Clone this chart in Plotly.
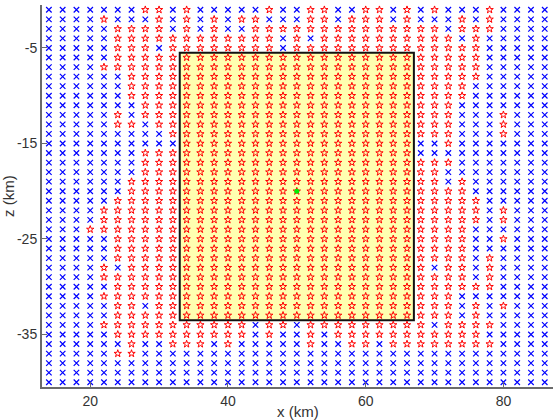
import plotly.graph_objects as go

# Grid columns (x, km) and rows (z, km)
x_cols = [14, 16, 18, 20, 22, 24, 26, 28, 30, 32, 34, 36, 38, 40, 42, 44, 46, 48, 50,
          52, 54, 56, 58, 60, 62, 64, 66, 68, 70, 72, 74, 76, 78, 80, 82, 84, 86]
z_rows = [-1, -2, -3, -4, -5, -6, -7, -8, -9, -10, -11, -12, -13, -14, -15, -16, -17,
          -18, -19, -20, -21, -22, -23, -24, -25, -26, -27, -28, -29, -30, -31, -32,
          -33, -34, -35, -36, -37, -38, -39, -40]

# Classification per row: '*' = red star, 'x' = blue cross (one char per column)
IN = "*" * 17
pattern = [
    "xxxxxxx**x*xxxxx*xx**xx**x*x*xxx*xxxx",
    "xxxx*xxx*x*x*x**xxx**x***x*xxx*x*xxxx",
    "xxxxx****x*x*xx**************x***xxxx",
    "xxxxx************x*x**********x*xxxxx",
    "xxxxx***x********x**************xxxxx",
    "xxxxx*****" + IN + "*****xxxxx",
    "xxxx******" + IN + "*****xxxxx",
    "xxxxxx****" + IN + "*****xxxxx",
    "xxxxxx****" + IN + "****xxxxxx",
    "xxxxxx****" + IN + "****xxxxxx",
    "xxxxxxx***" + IN + "***xxxxxxx",
    "xxxxx*x***" + IN + "***xxx*xxx",
    "xxxxx**x**" + IN + "***xxx*xxx",
    "xxxxxxxxx*" + IN + "***xxx*xxx",
    "xxxxxxxxxx" + IN + "xx*xxxxxxx",
    "xxxxxxx***" + IN + "xxxxxxxxxx",
    "xxxxxxx***" + IN + "***xxxxxxx",
    "xxxxxxx***" + IN + "**xxxxxxxx",
    "xxxxxx****" + IN + "**x*xxxxxx",
    "xxxxxx****" + IN + "****xxxxxx",
    "xxxxx*****" + IN + "*****xxxxx",
    "xxxx******" + IN + "*****x*xxx",
    "xxxx******" + IN + "*****x*xxx",
    "xxx*******" + IN + "****xxxxxx",
    "xxxxx*****" + IN + "****xx*xxx",
    "xxxxx*****" + IN + "****xxxxxx",
    "xxxxx*****" + IN + "****x*xxxx",
    "xxxx*x****" + IN + "*x**x*xxxx",
    "xxxx******" + IN + "****x*xxxx",
    "xxxxx*****" + IN + "******xxxx",
    "xxxx******" + IN + "***xxxxxxx",
    "xxxxx**x**" + IN + "***x*x*xxx",
    "xxxxx*****" + IN + "***x*xxxxx",
    "xxxx******" + "*****x**x*****" + "****x****xxxx",
    "xxxxx*****" + "*****x*xx*x***" + "********xxxxx",
    "xxxxxx*xx*" + "**x*xxxxx*xx**" + "x********xxxx",
    "xxxxx**xxx" + "x" * 27,
    "x" * 37,
    "x" * 37,
    "x" * 37,
]

# Source region (rectangle) and centre point
rect_x = [33, 67]
rect_z = [-33.5, -5.5]
src_x = [50]
src_z = [-20]

x_ticks = [20, 40, 60, 80]
z_ticks = [-5, -15, -25, -35]

star_x, star_z, cross_x, cross_z = [], [], [], []
for z, row in zip(z_rows, pattern):
    for x, c in zip(x_cols, row):
        if c == "*":
            star_x.append(x); star_z.append(z)
        else:
            cross_x.append(x); cross_z.append(z)

fig = go.Figure()
fig.add_shape(type="rect", x0=rect_x[0], x1=rect_x[1], y0=rect_z[0], y1=rect_z[1],
              fillcolor="#ffffb0", line=dict(color="#111111", width=2), layer="below")
fig.add_trace(go.Scatter(x=cross_x, y=cross_z, mode="markers",
                         marker=dict(symbol="x-thin-open", size=5.5, color="#0000ff",
                                     line=dict(color="#0000ff", width=1.2)),
                         hoverinfo="skip"))
fig.add_trace(go.Scatter(x=star_x, y=star_z, mode="markers",
                         marker=dict(symbol="star-open", size=5.5, color="#ff0000",
                                     line=dict(color="#ff0000", width=1)),
                         hoverinfo="skip"))
fig.add_trace(go.Scatter(x=src_x, y=src_z, mode="markers",
                         marker=dict(symbol="circle", size=5, color="#00ee00"),
                         hoverinfo="skip"))

axis_common = dict(showline=True, linecolor="#6b6b6b", linewidth=2, mirror=False,
                   showgrid=False, zeroline=False, ticks="inside", ticklen=5,
                   tickcolor="#6b6b6b", tickwidth=1, automargin=False,
                   tickfont=dict(family="Liberation Sans", size=14, color="#333333"))

title_font = dict(family="Liberation Sans", size=15, color="#333333")

fig.update_layout(
    width=560, height=420, showlegend=False,
    plot_bgcolor="white", paper_bgcolor="white",
    margin=dict(l=42, r=7, t=5, b=33),
    xaxis=dict(range=[13.0, 87.2], tickvals=x_ticks, ticktext=[str(v) for v in x_ticks],
               **axis_common),
    yaxis=dict(range=[-40.5, -0.5], tickvals=z_ticks, ticktext=[str(v) for v in z_ticks],
               **axis_common),
    annotations=[
        dict(text="x (km)", xref="paper", yref="paper", x=0.5, y=0, yshift=-24,
             xanchor="center", yanchor="middle", showarrow=False, font=title_font),
        dict(text="z (km)", xref="paper", yref="paper", x=0, y=0.5, xshift=-34,
             xanchor="center", yanchor="middle", showarrow=False, textangle=-90,
             font=title_font),
    ],
)

fig.write_html("out.html", config={"displayModeBar": False},
               post_script="document.body.style.margin='0';document.body.style.overflow='hidden';")
